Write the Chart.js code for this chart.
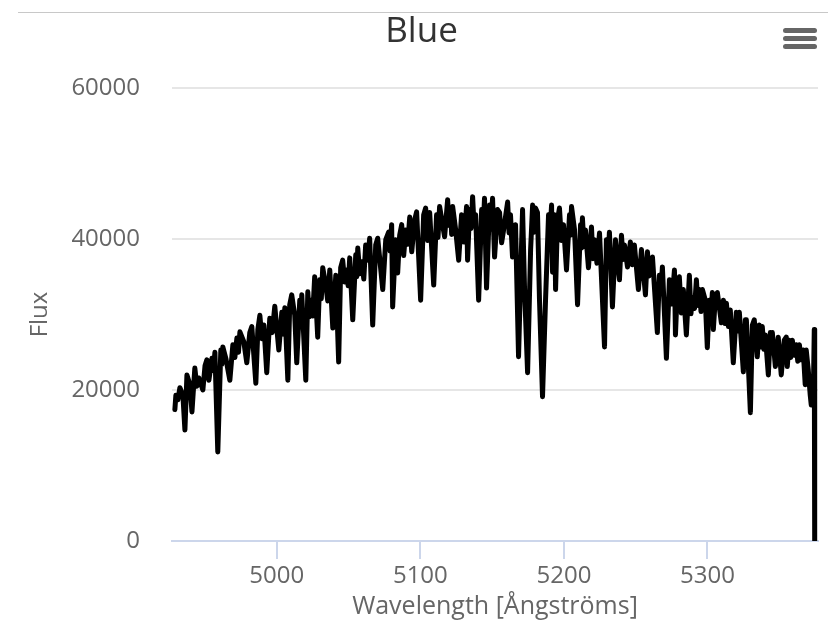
<!DOCTYPE html>
<html>
<head>
<meta charset="utf-8">
<script src="https://cdn.jsdelivr.net/npm/chart.js@4.4.0/dist/chart.umd.min.js"></script>
<style>
  body { margin: 0; background: #fff; }
  #wrap { position: relative; width: 828px; height: 622px; }
  #rule { position: absolute; left: 18px; right: 0; top: 12px; height: 1px; background: #c8c8c8; }
  #menu { position: absolute; left: 783px; top: 28px; width: 34px; }
  #menu span { display: block; height: 5px; margin-bottom: 3px; background: #666; border-radius: 3px; }
</style>
</head>
<body>
<div id="wrap">
  <canvas id="spectrum" width="828" height="622"></canvas>
  <div id="rule"></div>
  <div id="menu"><span></span><span></span><span></span></div>
</div>
<script>
  // blue arm spectrum, wavelength in Angstroms
  const wavelength = [
    4929.0, 4929.7, 4931.1, 4932.5, 4934.6, 4936.0, 4937.4, 4939.5, 4940.9, 4942.9,
    4944.3, 4945.7, 4948.5, 4950.0, 4951.3, 4952.7, 4954.8, 4955.8, 4956.9, 4958.9,
    4961.0, 4961.7, 4962.4, 4964.5, 4967.3, 4969.4, 4970.8, 4972.2, 4973.3, 4974.3,
    4977.0, 4979.1, 4981.2, 4982.6, 4985.4, 4986.8, 4988.2, 4989.6, 4991.0, 4993.0,
    4995.1, 4996.8, 4998.6, 5001.4, 5003.5, 5004.5, 5005.6, 5007.7, 5009.0, 5010.4,
    5012.5, 5013.9, 5016.0, 5016.7, 5017.4, 5020.2, 5021.6, 5022.6, 5023.7, 5025.0,
    5026.4, 5028.5, 5029.9, 5031.0, 5032.0, 5034.1, 5035.5, 5036.9, 5039.0, 5041.1,
    5043.1, 5044.5, 5045.9, 5047.3, 5048.7, 5049.7, 5050.8, 5052.9, 5055.0, 5055.7,
    5056.4, 5057.8, 5059.2, 5060.6, 5061.9, 5063.3, 5064.7, 5066.8, 5068.9, 5070.3,
    5073.8, 5075.9, 5077.9, 5078.9, 5080.0, 5080.7, 5082.8, 5084.2, 5085.6, 5087.0,
    5088.4, 5089.8, 5091.2, 5092.6, 5094.0, 5096.0, 5097.4, 5100.2, 5102.3, 5103.7,
    5105.1, 5106.5, 5109.3, 5111.3, 5112.3, 5113.4, 5116.9, 5119.0, 5120.0, 5121.1,
    5121.8, 5122.5, 5124.6, 5126.7, 5128.7, 5130.4, 5132.2, 5132.9, 5134.3, 5135.3,
    5136.4, 5137.4, 5138.5, 5140.6, 5142.7, 5143.7, 5144.7, 5146.1, 5148.2, 5149.2,
    5150.3, 5151.7, 5153.8, 5155.2, 5156.6, 5158.0, 5160.8, 5161.8, 5162.8, 5164.2,
    5166.3, 5168.4, 5169.8, 5171.2, 5172.6, 5174.7, 5176.8, 5178.2, 5179.2, 5180.2,
    5181.6, 5183.0, 5185.1, 5187.2, 5189.3, 5190.3, 5191.4, 5192.1, 5193.5, 5194.2,
    5195.5, 5196.9, 5198.3, 5199.7, 5201.8, 5203.9, 5204.6, 5205.3, 5207.4, 5209.5,
    5211.6, 5212.2, 5212.9, 5214.0, 5215.0, 5217.1, 5219.2, 5220.2, 5221.3, 5223.0,
    5224.8, 5228.3, 5229.6, 5230.7, 5231.7, 5233.8, 5235.9, 5238.7, 5240.1, 5241.2,
    5242.2, 5244.3, 5246.3, 5247.7, 5249.1, 5251.9, 5254.0, 5256.8, 5258.2, 5259.3,
    5260.3, 5261.7, 5265.1, 5266.5, 5267.6, 5268.6, 5271.4, 5273.5, 5275.2, 5277.0,
    5277.7, 5279.1, 5280.4, 5281.8, 5283.2, 5285.3, 5287.4, 5288.5, 5289.5, 5291.0,
    5292.3, 5293.3, 5294.4, 5295.5, 5296.5, 5298.5, 5299.9, 5301.3, 5302.4, 5303.4,
    5304.1, 5305.5, 5306.9, 5309.7, 5311.1, 5312.2, 5313.2, 5314.6, 5315.9, 5318.0,
    5320.1, 5321.2, 5322.2, 5325.0, 5326.4, 5327.1, 5329.9, 5331.3, 5332.6, 5334.7,
    5336.1, 5337.2, 5338.2, 5339.3, 5340.3, 5342.4, 5343.8, 5344.5, 5345.2, 5347.3,
    5349.3, 5351.4, 5353.5, 5354.9, 5355.6, 5357.0, 5358.0, 5359.1, 5360.5, 5361.9,
    5362.9, 5364.0, 5365.4, 5366.7, 5368.1, 5368.8, 5370.2, 5371.6, 5372.3, 5373.0,
    5373.7, 5374.4, 5374.7
  ];
  const flux = [
    17400, 19300, 18700, 20300, 19300, 14700, 22000, 20700, 17100, 22900,
    20500, 21600, 20000, 23200, 24000, 21300, 24200, 22600, 25000, 11800,
    25300, 23400, 25700, 24200, 21300, 26000, 24300, 26900, 25000, 27700,
    26400, 23600, 27600, 28400, 20900, 28000, 29900, 26800, 28600, 22300,
    29500, 27600, 31100, 25300, 30300, 27400, 30900, 21300, 31300, 32600,
    29900, 23600, 31900, 29200, 32600, 21300, 33000, 29700, 31900, 29800,
    35000, 27000, 34600, 32100, 36200, 33900, 31800, 35900, 28200, 35200,
    23700, 36200, 37200, 34300, 35900, 33800, 37500, 29300, 37900, 35000,
    38800, 35400, 37000, 34700, 39200, 37200, 40100, 28600, 39200, 40100,
    33300, 39900, 40900, 38400, 41900, 31000, 39900, 35500, 40500, 41900,
    37800, 41200, 39300, 42900, 38300, 42500, 43600, 31900, 43200, 44100,
    39800, 43500, 33900, 43200, 40200, 44300, 40300, 45200, 41800, 43900,
    40600, 44300, 41200, 37200, 43200, 39600, 44300, 37200, 43900, 41400,
    45600, 41800, 43200, 31900, 43900, 41000, 45400, 33500, 44500, 41300,
    45400, 37600, 43900, 43500, 39500, 41200, 44900, 40800, 43200, 37600,
    41900, 24400, 34600, 43900, 33300, 22300, 38600, 44500, 40900, 44100,
    43500, 31900, 19100, 31900, 43200, 40700, 44500, 35600, 43200, 33300,
    42500, 44100, 39800, 41900, 35900, 43200, 40500, 44300, 41200, 31300,
    41900, 38800, 42800, 39000, 41200, 36200, 41600, 37400, 39900, 36800,
    40800, 25700, 39900, 37200, 40900, 31000, 39900, 34600, 40500, 37300,
    39200, 36300, 39600, 36600, 39200, 33300, 38600, 32600, 38300, 35100,
    37000, 37600, 27600, 35200, 32800, 36300, 24200, 34600, 31400, 35900,
    27300, 33900, 35000, 30200, 33300, 27300, 35200, 30100, 32300, 30800,
    34600, 31200, 33300, 30400, 33300, 31900, 25600, 31900, 29600, 32900,
    28000, 32300, 32900, 28900, 31900, 28800, 31500, 28400, 30600, 23600,
    30300, 27800, 30300, 22400, 29300, 29300, 17000, 28600, 29300, 24400,
    28600, 25700, 28400, 25400, 27300, 22000, 27600, 24900, 27600, 23100,
    27000, 22000, 26600, 27000, 23100, 26600, 24300, 26600, 24600, 26000,
    23800, 26000, 24000, 25300, 20700, 25300, 22700, 19300, 18000, 20700,
    18700, 28000, 0
  ];

  const xTicks = [5000, 5100, 5200, 5300];
  const yTicks = [0, 20000, 40000, 60000];

  Chart.defaults.font.family = "'Open Sans', sans-serif";

  new Chart("spectrum", {
    type: "line",
    data: {
      datasets: [
        {
          data: wavelength.map((w, i) => ({ x: w, y: flux[i] })),
          borderColor: "#000000",
          borderWidth: 5,
          borderJoinStyle: "round",
          borderCapStyle: "round",
          pointRadius: 0,
          fill: false,
          tension: 0,
        },
      ],
    },
    options: {
      responsive: false,
      animation: false,
      devicePixelRatio: 1,
      layout: { padding: { left: 25, right: 10, top: 0, bottom: 0 } },
      plugins: {
        legend: { display: false },
        tooltip: { enabled: false },
        title: {
          display: true,
          text: "Blue",
          color: "#333333",
          font: { size: 35, weight: "normal" },
          padding: { top: 11, bottom: 35 },
        },
      },
      scales: {
        x: {
          type: "linear",
          min: 4927,
          max: 5377,
          afterBuildTicks: (scale) => { scale.ticks = xTicks.map((v) => ({ value: v })); },
          afterFit: (scale) => { scale.height = 81; },
          grid: { drawOnChartArea: false, drawTicks: true, tickLength: 18, color: "#ccd6eb", lineWidth: 2 },
          border: { color: "#ccd6eb", width: 2 },
          ticks: { color: "#666666", font: { size: 24 }, padding: 3, maxRotation: 0, callback: (v) => String(v) },
          title: {
            display: true,
            text: "Wavelength [Ångströms]",
            color: "#666666",
            font: { size: 25 },
            padding: { top: 0, bottom: 0 },
          },
        },
        y: {
          min: 0,
          max: 60000,
          afterBuildTicks: (scale) => { scale.ticks = yTicks.map((v) => ({ value: v })); },
          afterFit: (scale) => { scale.width = 147; },
          grid: { color: "#e6e6e6", lineWidth: 2, drawTicks: false },
          border: { display: false },
          ticks: { color: "#666666", font: { size: 24 }, padding: 32, callback: (v) => String(v) },
          title: {
            display: true,
            text: "Flux",
            color: "#666666",
            font: { size: 24 },
            padding: { top: 1, bottom: 0 },
          },
        },
      },
    },
  });
</script>
</body>
</html>
